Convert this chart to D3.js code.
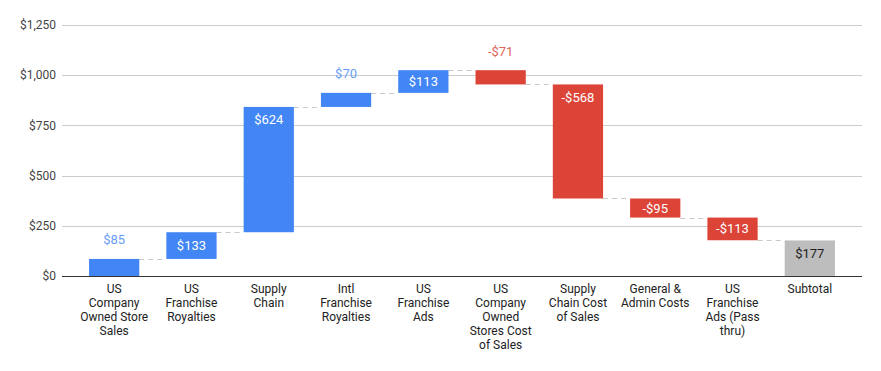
<!DOCTYPE html>
<html lang="en">
<head>
<meta charset="UTF-8">
<script src="https://d3js.org/d3.v7.min.js"></script>
<style>
  body { margin: 0; background: #fff; font-family: Roboto, Arial, sans-serif; }
  .grid line { stroke: #cccccc; stroke-width: 1px; }
  .connector { stroke: #c8c8c8; stroke-dasharray: 5,4; stroke-width: 1px; }
  .ytick { font-size: 12px; fill: #444; }
  .xlab { font-size: 12px; fill: #222; }
  .val { font-size: 13px; }
</style>
</head>
<body>
<svg width="881" height="371"></svg>
<script>
// categories (line breaks as in the original chart)
const categories = [
  "US\nCompany\nOwned Store\nSales",
  "US\nFranchise\nRoyalties",
  "Supply\nChain",
  "Intl\nFranchise\nRoyalties",
  "US\nFranchise\nAds",
  "US\nCompany\nOwned\nStores Cost\nof Sales",
  "Supply\nChain Cost\nof Sales",
  "General &\nAdmin Costs",
  "US\nFranchise\nAds (Pass\nthru)",
  "Subtotal"
];
// step changes for the first nine, then the subtotal
const deltas = [85, 133, 624, 70, 113, -71, -568, -95, -113];
const subtotal = 177;
const yTicks = [0, 250, 500, 750, 1000, 1250];

const svg = d3.select("svg"),
  margin = { top: 25, right: 19, bottom: 95, left: 62 },
  width = 881 - margin.left - margin.right,
  height = 371 - margin.top - margin.bottom;

const g = svg.append("g").attr("transform", `translate(${margin.left},${margin.top})`);

const x = d3.scaleBand().domain(categories).range([0, width]).padding(0.35);
const y = d3.scaleLinear().domain([0, 1250]).range([height, 0]);

// build steps
let run = 0;
const steps = deltas.map((d, i) => {
  const s = { cat: categories[i], start: run, end: run + d, value: d, kind: d >= 0 ? "up" : "down" };
  run += d;
  return s;
});
steps.push({ cat: categories[9], start: 0, end: subtotal, value: subtotal, kind: "total" });

const fill = { up: "#4285f4", down: "#db4437", total: "#bdbdbd" };
const outColor = { up: "#6a9ef5", down: "#e0665b", total: "#222" };
const fmt = v => (v < 0 ? "-$" : "$") + d3.format(",")(Math.abs(v));

// grid
g.append("g").attr("class", "grid")
  .selectAll("line").data(yTicks.filter(t => t > 0)).join("line")
  .attr("x1", 0).attr("x2", width)
  .attr("y1", d => Math.round(y(d)) + 0.5).attr("y2", d => Math.round(y(d)) + 0.5);

// y tick labels
g.selectAll("text.ytick").data(yTicks).join("text")
  .attr("class", "ytick")
  .attr("x", -6).attr("y", d => y(d)).attr("dy", "0.35em")
  .attr("text-anchor", "end")
  .text(d => "$" + d3.format(",")(d));

// connectors
g.selectAll("line.connector").data(steps.slice(0, -1)).join("line")
  .attr("class", "connector")
  .attr("x1", d => x(d.cat) + x.bandwidth())
  .attr("x2", (d, i) => x(steps[i + 1].cat))
  .attr("y1", d => Math.round(y(d.end)) + 0.5)
  .attr("y2", d => Math.round(y(d.end)) + 0.5);

// bars
g.selectAll("rect.bar").data(steps).join("rect")
  .attr("class", "bar")
  .attr("x", d => x(d.cat))
  .attr("width", x.bandwidth())
  .attr("y", d => y(Math.max(d.start, d.end)))
  .attr("height", d => Math.abs(y(d.start) - y(d.end)))
  .attr("fill", d => fill[d.kind]);

// value labels
g.selectAll("text.val").data(steps).join("text")
  .attr("class", "val")
  .attr("text-anchor", "middle")
  .attr("x", d => x(d.cat) + x.bandwidth() / 2)
  .attr("dy", "0.35em")
  .each(function(d) {
    const top = y(Math.max(d.start, d.end));
    const bot = y(Math.min(d.start, d.end));
    const h = bot - top;
    const t = d3.select(this);
    if (h < 18) {
      t.attr("y", top - 19).attr("fill", outColor[d.kind]);
    } else {
      t.attr("y", Math.min((top + bot) / 2, top + 13))
        .attr("fill", d.kind === "total" ? "#222" : "#fff");
    }
    t.text(fmt(d.value));
  });

// baseline
g.append("line")
  .attr("x1", 0).attr("x2", width)
  .attr("y1", Math.round(y(0)) + 0.5).attr("y2", Math.round(y(0)) + 0.5)
  .attr("stroke", "#333");

// x labels
g.selectAll("text.xlab").data(categories).join("text")
  .attr("class", "xlab")
  .attr("text-anchor", "middle")
  .attr("transform", d => `translate(${x(d) + x.bandwidth() / 2},${height + 17})`)
  .each(function(d) {
    d3.select(this).selectAll("tspan").data(d.split("\n")).join("tspan")
      .attr("x", 0).attr("dy", (l, i) => i === 0 ? 0 : 14)
      .text(l => l);
  });
</script>
</body>
</html>
